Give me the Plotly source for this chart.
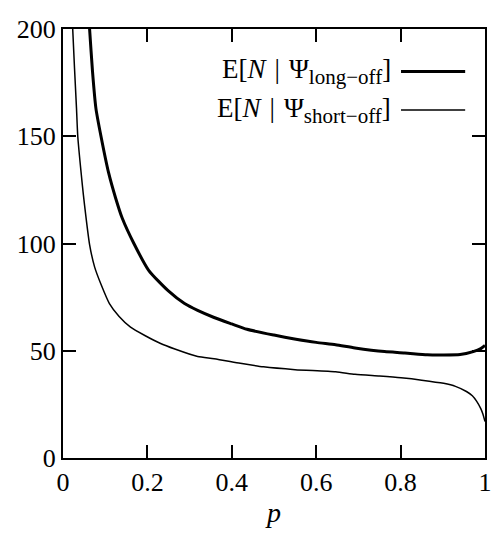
import plotly.graph_objects as go

# Data
p_long = [0.055, 0.063, 0.070, 0.078, 0.090, 0.108, 0.125, 0.140, 0.168, 0.203, 0.249, 0.288,
          0.319, 0.358, 0.40, 0.436, 0.50, 0.552, 0.60, 0.646, 0.692, 0.762, 0.81, 0.863, 0.90,
          0.941, 0.972, 0.99, 1.0]
e_long = [225, 200, 180, 163, 150, 133, 121, 112, 100, 87.5, 78, 72,
          68.8, 65.5, 62.5, 60, 57.3, 55.4, 53.9, 52.8, 51.3, 49.6, 49.0, 48.1, 48.0,
          48.2, 49.6, 51, 52.5]

p_short = [0.018, 0.023, 0.032, 0.035, 0.046, 0.051, 0.063, 0.075, 0.090, 0.110, 0.133, 0.160,
           0.195, 0.230, 0.265, 0.319, 0.358, 0.42, 0.475, 0.55, 0.646, 0.692, 0.75, 0.801,
           0.85, 0.902, 0.93, 0.956, 0.970, 0.980, 0.990, 0.995, 1.0]
e_short = [240, 200, 163, 150, 127, 118, 99.5, 89, 81, 72, 66, 61,
           57, 53.5, 50.8, 47.3, 46.3, 44.2, 42.5, 41.2, 40.2, 39, 38.2, 37.4,
           36.3, 34.8, 33.4, 31, 29, 26.5, 23, 20.5, 17]

x_ticks = [0, 0.2, 0.4, 0.6, 0.8, 1]
x_tick_labels = ["0", "0.2", "0.4", "0.6", "0.8", "1"]
y_ticks = [0, 50, 100, 150, 200]
y_tick_labels = ["0", "50", "100", "150", "200"]

SUB = '<sub><span style="font-size:21px">{}</span></sub>'
label_long = "E[<i>N</i>\u2004|\u2004Ψ" + SUB.format("long−off") + "]"
label_short = "E[<i>N</i>\u2004|\u2004Ψ" + SUB.format("short−off") + "]"

FONT = "Liberation Serif"

fig = go.Figure()
fig.add_trace(go.Scatter(x=p_long, y=e_long, mode="lines", name=label_long,
                         line=dict(color="black", width=3, shape="spline", smoothing=0.6)))
fig.add_trace(go.Scatter(x=p_short, y=e_short, mode="lines", name=label_short,
                         line=dict(color="black", width=1.5, shape="spline", smoothing=0.6)))

# Legend drawn gnuplot-style: text on the left, line sample on the right
rows = [(label_long, 3, 0.901), (label_short, 1.5, 0.811)]
for text, w, yp in rows:
    fig.add_annotation(xref="paper", yref="paper", x=0.782, y=yp, text=text,
                       showarrow=False, xanchor="right", yanchor="middle",
                       font=dict(family=FONT, size=27, color="black"))
    fig.add_shape(type="line", xref="paper", yref="paper", x0=0.801, x1=0.953,
                  y0=yp, y1=yp, line=dict(color="black", width=w))

axis_common = dict(showline=True, linecolor="black", linewidth=2, mirror="allticks",
                   ticks="inside", tickcolor="black", tickwidth=2, ticklen=13,
                   showgrid=False, zeroline=False, ticklabeloverflow="allow",
                   layer="above traces",
                   tickfont=dict(family=FONT, size=26, color="black"))

fig.update_xaxes(range=[0, 1], tickvals=x_ticks, ticktext=x_tick_labels,
                 title=dict(text="<i>p</i>", font=dict(family=FONT, size=28, color="black"),
                            standoff=6),
                 **axis_common)
fig.update_yaxes(range=[0, 200], tickvals=y_ticks, ticktext=y_tick_labels,
                 **axis_common)

# the page body has an 8px margin, so the figure is shifted and shrunk to compensate
fig.update_layout(width=491, height=529, showlegend=False,
                  paper_bgcolor="white", plot_bgcolor="white",
                  margin=dict(l=55, r=7, t=12, b=79),
                  font=dict(family=FONT, color="black"))

fig.write_html("out.html")
